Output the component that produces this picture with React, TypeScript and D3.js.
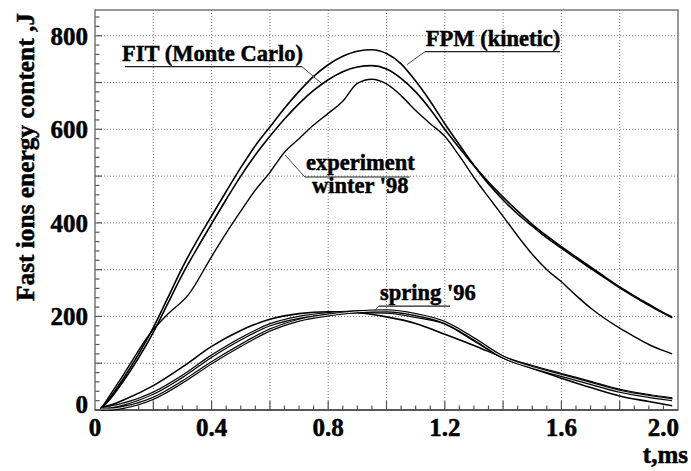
import React from "react";
import * as d3 from "d3";

// winter '98 shot, upper group
const tUpper = [0.02, 0.05, 0.1, 0.15, 0.2, 0.25, 0.3, 0.35, 0.4, 0.45, 0.5, 0.55, 0.6, 0.65, 0.7, 0.75, 0.8, 0.85, 0.9, 0.95, 1.0, 1.05, 1.1, 1.15, 1.2, 1.25, 1.3, 1.35, 1.4, 1.45, 1.5, 1.55, 1.6, 1.65, 1.7, 1.75, 1.8, 1.85, 1.9, 1.95, 1.98];
const fpmWinter = [2, 25, 70, 120, 176, 240, 305, 362, 415, 467, 518, 565, 605, 645, 681, 713, 738, 756, 767, 770, 762, 740, 703, 660, 612, 567, 523, 487, 455, 425, 397, 372, 349, 327, 306, 284, 263, 244, 226, 208, 199];
const fitWinter = [2, 22, 64, 112, 166, 228, 290, 345, 398, 450, 500, 545, 585, 622, 655, 683, 706, 723, 733, 736, 729, 709, 680, 643, 600, 560, 522, 483, 449, 419, 393, 368, 346, 324, 303, 282, 261, 242, 224, 207, 197];

const tExpWinter = [0.02, 0.1, 0.19, 0.25, 0.32, 0.4, 0.45, 0.5, 0.55, 0.6, 0.65, 0.7, 0.75, 0.8, 0.85, 0.9, 0.95, 1.0, 1.05, 1.1, 1.15, 1.2, 1.25, 1.3, 1.35, 1.4, 1.45, 1.5, 1.55, 1.6, 1.65, 1.7, 1.75, 1.8, 1.85, 1.9, 1.95, 1.98];
const expWinter = [2, 78, 164, 205, 246, 328, 378, 425, 470, 508, 551, 580, 609, 634, 660, 698, 707, 697, 672, 640, 612, 585, 543, 497, 455, 414, 372, 333, 300, 274, 245, 218, 195, 175, 157, 140, 127, 120];

// spring '96 shot, lower group
const tLower = [0.02, 0.05, 0.1, 0.2, 0.3, 0.4, 0.5, 0.6, 0.7, 0.8, 0.9, 1.0, 1.1, 1.2, 1.3, 1.4, 1.5, 1.6, 1.7, 1.8, 1.9, 1.98];
const expSpring = [5, 10, 22, 52, 92, 136, 170, 194, 206, 210, 208, 199, 185, 162, 138, 112, 89, 68, 48, 30, 18, 9];
const fitSpring = [3, 6, 13, 36, 72, 115, 152, 182, 198, 206, 210, 209, 200, 186, 150, 113, 93, 76, 59, 42, 31, 24];
const fpmSpring = [2, 2, 6, 25, 60, 101, 138, 171, 192, 203, 210, 212, 204, 187, 152, 113, 91, 74, 57, 40, 29, 22];

const xTickLabels = ["0", "0.4", "0.8", "1.2", "1.6", "2.0"];
const yTickLabels = ["0", "200", "400", "600", "800"];

const W = 691;
const H = 471;
const font = '"Liberation Serif", "Times New Roman", serif';

export default function App() {
  const x = d3.scaleLinear().domain([0, 2]).range([95, 678]);
  const y = d3.scaleLinear().domain([0, 855]).range([410, 10]);

  const line = d3
    .line<[number, number]>()
    .x((d) => x(d[0]))
    .y((d) => y(d[1]))
    .curve(d3.curveMonotoneX);

  const path = (ts: number[], vs: number[]) =>
    line(ts.map((t, i) => [t, vs[i]] as [number, number])) || "";

  const xGrid = d3.range(0.2, 1.81, 0.2);
  const yGrid = d3.range(100, 801, 100);
  const xMinor = d3.range(0.05, 2.0, 0.05);
  const yMinor = d3.range(20, 855, 20);

  // annotation: text + underline + leader (from the underline's left or right end), in data units
  const notes = [
    { lines: ["FIT (Monte Carlo)"], tx: 0.093, tv: 745, u0: 0.103, u1: 0.71, uv: 734, fromRight: true, lt: 0.779, lv: 697 },
    { lines: ["FPM (kinetic)"], tx: 1.135, tv: 777, u0: 1.132, u1: 1.595, uv: 766, fromRight: false, lt: 1.07, lv: 738 },
    { lines: ["experiment", "winter '98"], tx: 0.724, tv: 513, u0: 0.72, u1: 1.08, uv: 498, fromRight: false, lt: 0.652, lv: 545 },
    { lines: ["spring '96"], tx: 0.978, tv: 235, u0: 0.974, u1: 1.218, uv: 222, fromRight: false, lt: 0.957, lv: 211 },
  ];

  // slight outline gives the heavier print look of the original
  const txt = { fontFamily: font, fontWeight: 700 as const, stroke: "#000", strokeWidth: 0.5 };

  return (
    <svg
      width={W}
      height={H}
      style={{ position: "absolute", left: 0, top: 0, background: "#fff" }}
    >
      {/* grid */}
      {xGrid.map((t) => (
        <line key={"gx" + t} x1={x(t)} x2={x(t)} y1={y(855)} y2={y(0)} stroke="#777" strokeWidth={1} strokeDasharray="1,2" />
      ))}
      {yGrid.map((v) => (
        <line key={"gy" + v} x1={x(0)} x2={x(2)} y1={y(v)} y2={y(v)} stroke="#777" strokeWidth={1} strokeDasharray="1,2" />
      ))}

      {/* ticks */}
      {xMinor.map((t) => {
        const major = Math.abs(t / 0.2 - Math.round(t / 0.2)) < 1e-6;
        return <line key={"tx" + t} x1={x(t)} x2={x(t)} y1={y(0)} y2={y(0) - (major ? 9 : 4.5)} stroke="#555" strokeWidth={1.2} />;
      })}
      {yMinor.map((v) => (
        <line key={"ty" + v} x1={x(0)} x2={x(0) + (v % 100 === 0 ? 7 : 4.5)} y1={y(v)} y2={y(v)} stroke="#555" strokeWidth={1.2} />
      ))}

      {/* frame */}
      <rect x={x(0)} y={y(855)} width={x(2) - x(0)} height={y(0) - y(855)} fill="none" stroke="#777" strokeWidth={1.5} />
      <line x1={x(0)} x2={x(2)} y1={y(0)} y2={y(0)} stroke="#444" strokeWidth={1.5} />

      {/* winter curves */}
      <path d={path(tUpper, fpmWinter)} fill="none" stroke="#000" strokeWidth={1.6} />
      <path d={path(tUpper, fitWinter)} fill="none" stroke="#000" strokeWidth={1.6} />
      <path d={path(tExpWinter, expWinter)} fill="none" stroke="#000" strokeWidth={1.4} />

      {/* spring curves */}
      <path d={path(tLower, expSpring)} fill="none" stroke="#000" strokeWidth={1.6} />
      {[fitSpring, fpmSpring].map((vs, i) => (
        <g key={"sp" + i}>
          <path d={path(tLower, vs)} fill="none" stroke="#000" strokeWidth={3.2} />
          <path d={path(tLower, vs)} fill="none" stroke="#ddd" strokeWidth={1} />
        </g>
      ))}

      {/* annotations */}
      {notes.map((n, i) => {
        const lx = n.fromRight ? x(n.u1) : x(n.u0);
        return (
          <g key={"n" + i}>
            {n.lines.map((s, j) => (
              <text key={j} x={x(n.tx) + j * 6} y={y(n.tv) + j * 23} fontSize={22.5} fill="#000" style={txt}>
                {s}
              </text>
            ))}
            <line x1={x(n.u0)} x2={x(n.u1)} y1={y(n.uv)} y2={y(n.uv)} stroke="#222" strokeWidth={1.2} />
            <line x1={lx} x2={x(n.lt)} y1={y(n.uv)} y2={y(n.lv)} stroke="#444" strokeWidth={1} />
          </g>
        );
      })}

      {/* tick labels */}
      {xTickLabels.map((s, i) => {
        const last = i === xTickLabels.length - 1;
        return (
          <text key={"xl" + s} x={last ? x(+s) + 1 : x(+s)} y={436} textAnchor={last ? "end" : "middle"} fontSize={25} fill="#000" style={txt}>
            {s}
          </text>
        );
      })}
      {yTickLabels.map((s) => (
        <text key={"yl" + s} x={88} y={y(+s) + (+s === 0 ? 3 : 9)} textAnchor="end" fontSize={25} fill="#000" style={txt}>
          {s}
        </text>
      ))}

      {/* axis titles */}
      <text x={688} y={463} textAnchor="end" fontSize={25} fill="#000" style={txt}>
        t,ms
      </text>
      <text
        transform="translate(34,157) rotate(-90)"
        textAnchor="middle"
        fontSize={26}
        textLength={288}
        lengthAdjust="spacingAndGlyphs"
        fill="#000"
        style={txt}
      >
        Fast ions energy content ,J
      </text>
    </svg>
  );
}
